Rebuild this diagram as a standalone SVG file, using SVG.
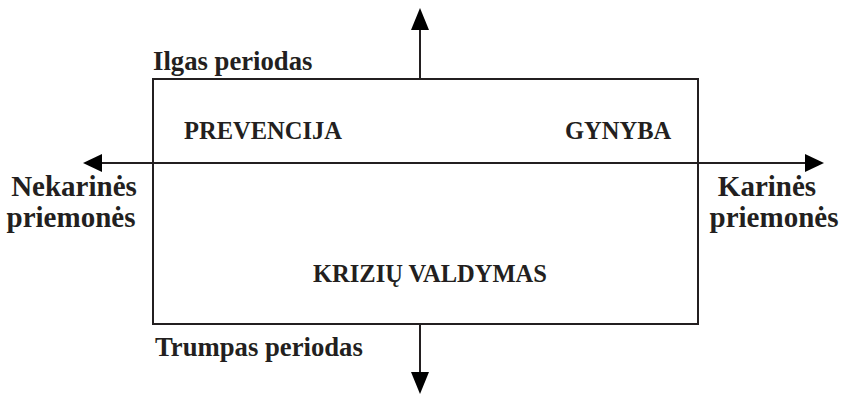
<svg xmlns="http://www.w3.org/2000/svg" width="843" height="396" viewBox="0 0 843 396">
<style>
.t{font-family:'Liberation Serif','Times New Roman',serif;font-weight:bold;fill:#231f20}
.s{font-size:26.7px}
.w{font-size:29px}
.c{font-size:24.5px}
.ln{stroke:#231f20;stroke-width:2;fill:none}
.ah{fill:#000}
</style>
<rect width="843" height="396" fill="#fff"/>
<g id="frame">
<rect class="ln" x="153" y="79" width="545" height="245" stroke-width="2.5"/>
</g>
<g id="connectors">
<line class="ln" x1="420" y1="79" x2="420" y2="28"/>
<polygon class="ah" points="420,8 411,30 429,30"/>
<line class="ln" x1="420" y1="324" x2="420" y2="375"/>
<polygon class="ah" points="420,394 411,372 429,372"/>
<line class="ln" x1="100" y1="163" x2="806" y2="163"/>
<polygon class="ah" points="83,163 102,154 102,172"/>
<polygon class="ah" points="824,163 805,154 805,172"/>
</g>
<g id="ilgas"><text class="t s" x="153" y="70">Ilgas periodas</text></g>
<g id="trumpas"><text class="t s" x="155" y="356">Trumpas periodas</text></g>
<g id="prevencija"><text class="t c" x="184" y="139">PREVENCIJA</text></g>
<g id="gynyba"><text class="t c" x="565" y="139">GYNYBA</text></g>
<g id="krizes"><text class="t c" x="313" y="282">KRIZIŲ VALDYMAS</text></g>
<g id="nekarines"><text class="t w" text-anchor="middle" x="74" y="196">Nekarinės</text><text class="t w" text-anchor="middle" x="71" y="227">priemonės</text></g>
<g id="karines"><text class="t w" text-anchor="middle" x="767" y="196">Karinės</text><text class="t w" text-anchor="middle" x="774" y="227">priemonės</text></g>
</svg>
